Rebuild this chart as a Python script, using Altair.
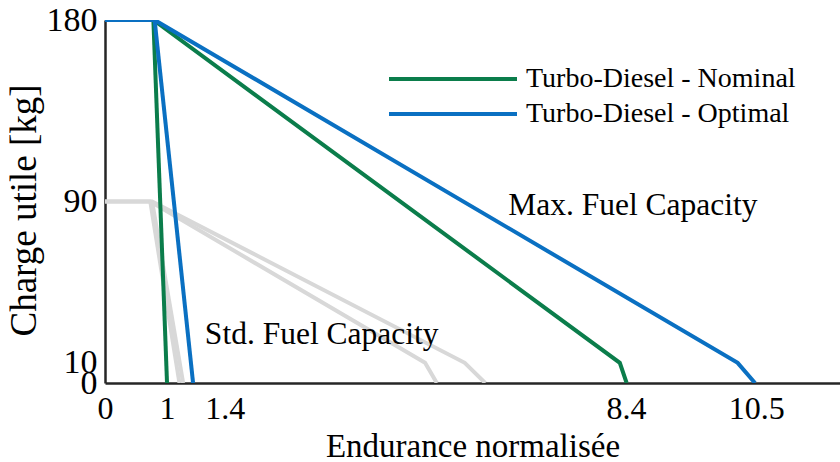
import altair as alt
import pandas as pd

# Payload vs. normalised endurance curves (x = endurance, y = payload in kg)
nominal_max_x = [0.0, 0.78, 8.30, 8.41]
nominal_max_y = [180, 180, 10, 0]
nominal_std_x = [0.78, 1.0]
nominal_std_y = [180, 0]

optimal_max_x = [0.0, 0.80, 10.20, 10.48]
optimal_max_y = [180, 180, 10, 0]
optimal_std_x = [0.80, 1.42]
optimal_std_y = [180, 0]

# Reference engines shown in grey (lower payload)
ref_a_max_x = [0.0, 0.73, 5.16, 5.35]
ref_a_max_y = [90, 90, 10, 0]
ref_b_max_x = [0.0, 0.76, 5.80, 6.13]
ref_b_max_y = [90, 90, 10, 0]
ref_a_std_x = [0.73, 1.20]
ref_a_std_y = [90, 0]
ref_b_std_x = [0.76, 1.26]
ref_b_std_y = [90, 0]

x_ticks = [0, 1, 1.4, 8.4, 10.5]
y_ticks = [0, 10, 90, 180]

legend_names = ["Turbo-Diesel - Nominal", "Turbo-Diesel - Optimal"]
legend_colors = ["#0b7d4b", "#0a70c2"]

annotations = pd.DataFrame({
    "x": [6.5, 1.61],
    "y": [88, 24],
    "label": ["Max. Fuel Capacity", "Std. Fuel Capacity"],
})


def curve(xs, ys, cid, engine=None):
    return pd.DataFrame({
        "x": xs, "y": ys, "curve": cid, "engine": engine,
        "order": list(range(len(xs))),
    })


grey_df = pd.concat([
    curve(ref_a_max_x, ref_a_max_y, "a_max"),
    curve(ref_b_max_x, ref_b_max_y, "b_max"),
    curve(ref_a_std_x, ref_a_std_y, "a_std"),
    curve(ref_b_std_x, ref_b_std_y, "b_std"),
])

main_df = pd.concat([
    curve(nominal_max_x, nominal_max_y, "n_max", legend_names[0]),
    curve(nominal_std_x, nominal_std_y, "n_std", legend_names[0]),
    curve(optimal_max_x, optimal_max_y, "o_max", legend_names[1]),
    curve(optimal_std_x, optimal_std_y, "o_std", legend_names[1]),
])

FONT = "Liberation Serif"
AXIS_COLOR = "#262626"

x_scale = alt.Scale(domain=[0, 11.85], nice=False, zero=False)
y_scale = alt.Scale(domain=[0, 180], nice=False)

x_enc = alt.X(
    "x:Q", scale=x_scale, title="Endurance normalisée",
    axis=alt.Axis(values=x_ticks, labelExpr="datum.value", ticks=False,
                  grid=False, labelFontSize=32, titleFontSize=33,
                  labelPadding=10, titlePadding=6, labelOverlap=False,
                  labelFlush=False,
                  labelOffset={"condition": {"test": "datum.value == 1.4", "value": 33},
                               "value": 0},
                  domainColor=AXIS_COLOR, domainWidth=2.5),
)
y_enc = alt.Y(
    "y:Q", scale=y_scale, title="Charge utile [kg]",
    axis=alt.Axis(values=y_ticks, ticks=False, grid=False,
                  labelFontSize=34, titleFontSize=37, labelPadding=8,
                  titlePadding=3, titleY=190, labelOverlap=False,
                  labelFlush=False, labelBaseline="middle",
                  domainColor=AXIS_COLOR, domainWidth=2.5),
)

grey = alt.Chart(grey_df).mark_line(
    color="#d8d8d8", strokeWidth=4, clip=True
).encode(x=x_enc, y=y_enc, detail="curve:N", order="order:Q")

main = alt.Chart(main_df).mark_line(strokeWidth=4, clip=True).encode(
    x=x_enc, y=y_enc, detail="curve:N", order="order:Q",
    color=alt.Color(
        "engine:N",
        scale=alt.Scale(domain=legend_names, range=legend_colors),
        legend=alt.Legend(
            title=None, orient="none", legendX=330, legendY=41,
            symbolType="M-4,0H4", symbolSize=1024, symbolStrokeWidth=4,
            labelFontSize=28, labelFont=FONT, labelOffset=55, labelLimit=500,
            rowPadding=3, padding=0, labelColor="black",
        ),
    ),
)

text = alt.Chart(annotations).mark_text(
    align="left", baseline="middle", fontSize=31.5, font=FONT, color="black"
).encode(x=alt.X("x:Q", scale=x_scale), y=alt.Y("y:Q", scale=y_scale), text="label:N")

chart = (
    alt.layer(grey, main, text)
    .properties(
        width=735, height=363,
        autosize=alt.AutoSizeParams(type="none"),
        padding={"left": 105, "top": 20, "right": 0, "bottom": 79},
        background="white",
    )
    .configure_view(stroke=None)
    .configure_axis(labelFont=FONT, titleFont=FONT, labelColor="black",
                    titleColor="black", titleFontWeight="normal")
)

chart.save("out.html", embed_options={"renderer": "svg", "actions": False})
